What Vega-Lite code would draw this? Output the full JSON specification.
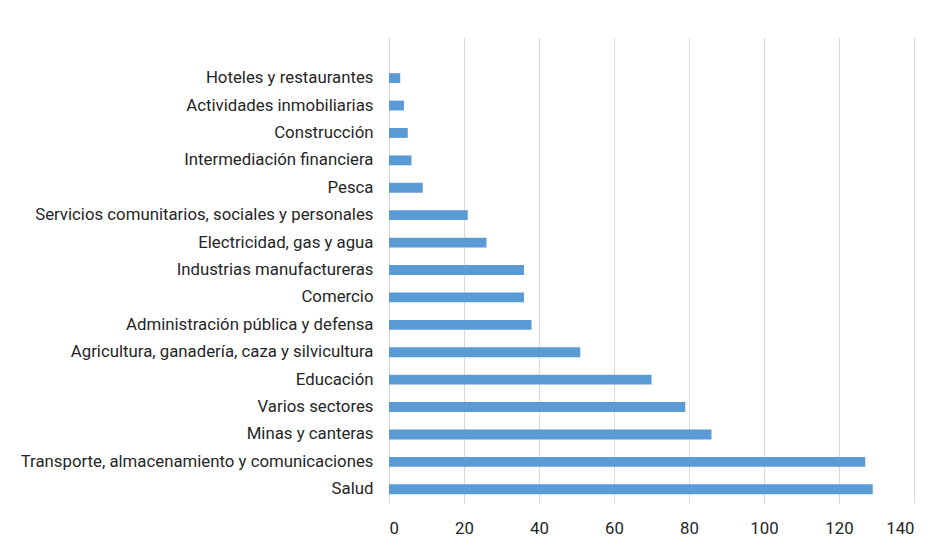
{
  "$schema": "https://vega.github.io/schema/vega-lite/v6.json",
  "width": 525,
  "height": 466,
  "autosize": {"type": "none"},
  "padding": {"left": 389, "top": 37, "right": 24, "bottom": 45},
  "background": "white",
  "config": {
    "view": {"stroke": null},
    "font": "Roboto"
  },
  "data": {
    "values": [
      {"sector": "Hoteles y restaurantes", "valor": 3},
      {"sector": "Actividades inmobiliarias", "valor": 4},
      {"sector": "Construcción", "valor": 5},
      {"sector": "Intermediación financiera", "valor": 6},
      {"sector": "Pesca", "valor": 9},
      {"sector": "Servicios comunitarios, sociales y personales", "valor": 21},
      {"sector": "Electricidad, gas y agua", "valor": 26},
      {"sector": "Industrias manufactureras", "valor": 36},
      {"sector": "Comercio ", "valor": 36},
      {"sector": "Administración pública y defensa", "valor": 38},
      {"sector": "Agricultura, ganadería, caza y silvicultura", "valor": 51},
      {"sector": "Educación", "valor": 70},
      {"sector": "Varios sectores", "valor": 79},
      {"sector": "Minas y canteras", "valor": 86},
      {"sector": "Transporte, almacenamiento y comunicaciones", "valor": 127},
      {"sector": "Salud", "valor": 129}
    ]
  },
  "mark": {"type": "bar", "color": "#5B9BD5"},
  "encoding": {
    "y": {
      "field": "sector",
      "type": "nominal",
      "scale": {
        "domain": ["", "Hoteles y restaurantes", "Actividades inmobiliarias", "Construcción", "Intermediación financiera", "Pesca", "Servicios comunitarios, sociales y personales", "Electricidad, gas y agua", "Industrias manufactureras", "Comercio ", "Administración pública y defensa", "Agricultura, ganadería, caza y silvicultura", "Educación", "Varios sectores", "Minas y canteras", "Transporte, almacenamiento y comunicaciones", "Salud"],
        "paddingInner": 0.64,
        "paddingOuter": 0.32
      },
      "axis": {
        "title": null,
        "domain": false,
        "ticks": false,
        "labelPadding": 16,
        "labelFontSize": 16.8,
        "labelColor": "#262626",
        "labelFont": "Roboto",
        "labelLimit": 400
      }
    },
    "x": {
      "field": "valor",
      "type": "quantitative",
      "scale": {"domain": [0, 140], "nice": false},
      "axis": {
        "title": null,
        "values": [0, 20, 40, 60, 80, 100, 120, 140],
        "domain": false,
        "ticks": false,
        "grid": true,
        "gridColor": "#D9D9D9",
        "gridWidth": 1,
        "labelPadding": 17,
        "labelFontSize": 16.8,
        "labelColor": "#262626",
        "labelFont": "Roboto"
      }
    }
  }
}
